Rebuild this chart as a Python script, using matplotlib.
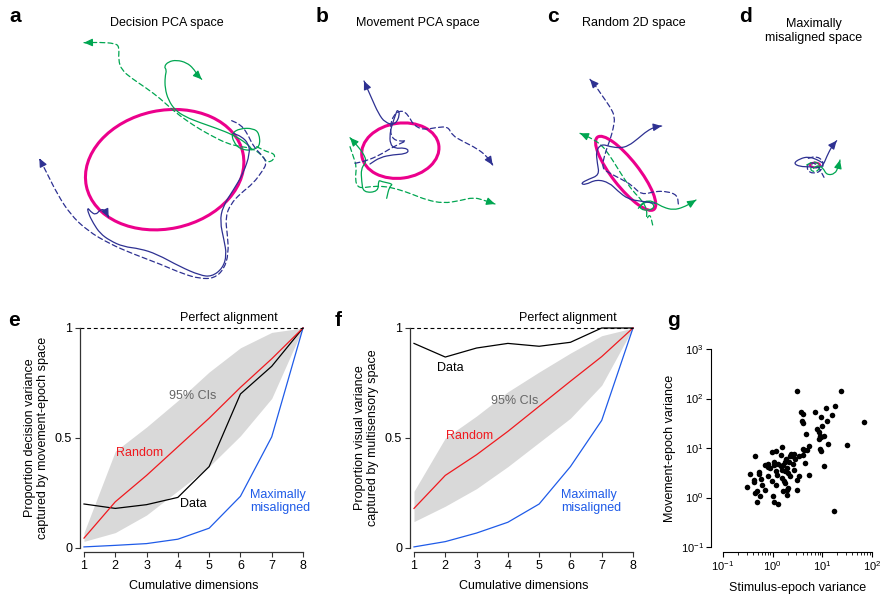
import numpy as np
import matplotlib
matplotlib.use('Agg')
import matplotlib.pyplot as plt
from matplotlib.path import Path
from matplotlib.patches import PathPatch, Ellipse
from matplotlib.ticker import LogLocator, NullFormatter

plt.rcParams['font.family'] = ['Liberation Sans', 'DejaVu Sans']
plt.rcParams['mathtext.fontset'] = 'custom'
plt.rcParams['mathtext.rm'] = 'Liberation Sans'
plt.rcParams['mathtext.it'] = 'Liberation Sans:italic'

# ---------------- data ----------------
dims = [1, 2, 3, 4, 5, 6, 7, 8]

e_random = [0.045, 0.21, 0.33, 0.46, 0.59, 0.73, 0.86, 1.0]
e_ci_hi = [0.07, 0.44, 0.55, 0.67, 0.80, 0.91, 0.98, 1.0]
e_ci_lo = [0.03, 0.07, 0.15, 0.26, 0.37, 0.51, 0.68, 1.0]
e_data = [0.20, 0.18, 0.197, 0.23, 0.37, 0.70, 0.826, 1.0]
e_misaligned = [0.005, 0.012, 0.02, 0.04, 0.09, 0.235, 0.505, 1.0]

f_random = [0.18, 0.33, 0.424, 0.53, 0.644, 0.758, 0.87, 1.0]
f_ci_hi = [0.258, 0.50, 0.60, 0.71, 0.80, 0.886, 0.965, 1.0]
f_ci_lo = [0.12, 0.19, 0.27, 0.37, 0.48, 0.59, 0.74, 1.0]
f_data = [0.93, 0.868, 0.909, 0.93, 0.917, 0.935, 1.0, 1.0]
f_misaligned = [0.005, 0.029, 0.068, 0.117, 0.20, 0.37, 0.58, 1.0]

g_stim = [3.03, 23.8, 18.0, 11.7, 7.22, 15.4, 3.65, 4.07, 9.25, 3.82,
          4.13, 12.2, 7.69, 10.0, 8.70, 8.97, 4.68, 9.25, 70.5, 8.44,
          10.8, 12.8, 31.0, 8.97, 9.25, 5.46, 1.53, 4.00, 4.26, 4.83,
          4.00, 2.68, 2.29, 1.16, 0.95, 0.44, 2.22, 2.40, 1.85, 1.46,
          2.85, 3.38, 4.47, 1.07, 1.29, 0.69, 0.81, 1.06, 1.76, 2.15,
          2.59, 1.63, 10.8, 0.53, 0.81, 0.90, 1.46, 1.53, 1.90, 1.99,
          1.19, 2.72, 1.76, 0.35, 0.52, 0.59, 0.81, 0.95, 1.25, 1.51,
          2.22, 1.68, 3.43, 5.46, 3.03, 0.42, 0.42, 0.30, 0.60, 1.16,
          1.76, 1.99, 0.49, 0.44, 0.69, 1.58, 3.03, 1.90, 0.55, 1.02,
          0.49, 1.06, 1.90, 1.31, 17.5]
g_move = [144, 142, 70.8, 63.5, 54.4, 46.7, 52.8, 48.1, 41.9, 35.9,
          32.7, 35.9, 24.4, 27.2, 21.5, 17.6, 19.0, 16.3, 34.2, 15.3,
          17.1, 12.1, 11.6, 9.47, 8.90, 11.1, 10.7, 9.6, 9.18, 9.18,
          7.28, 7.62, 7.62, 8.50, 8.4, 6.74, 6.95, 6.74, 5.96, 7.16,
          5.96, 6.95, 4.95, 5.18, 4.80, 4.44, 4.80, 4.44, 5.10, 5.10,
          4.72, 4.58, 4.37, 3.21, 4.05, 3.92, 4.24, 3.63, 3.92, 3.11,
          3.36, 3.63, 3.36, 2.92, 3.01, 2.35, 2.75, 2.11, 2.88, 2.47,
          2.66, 2.11, 2.75, 2.83, 2.28, 2.28, 2.01, 1.62, 1.81, 1.75,
          1.95, 1.55, 1.33, 1.23, 1.39, 1.33, 1.39, 1.39, 1.05, 1.05,
          0.83, 0.83, 1.14, 0.74, 0.54]

# trajectories (projection units, y downward)
a_green_dashed = [(770,440),(800,455),(825,462),(822,480),(800,488),(790,470),(760,445),(720,440),(680,430),(640,410),(600,388),(560,362),(520,332),(480,295),(440,265),(395,235),(365,210),(355,180),(358,140),(345,130),(300,127),(252,128)]
a_green_solid = [(755,450),(780,440),(778,400),(760,385),(720,385),(695,400),(700,425),(720,448),(760,452),(740,430),(700,405),(650,385),(600,368),(555,350),(525,330),(505,300),(495,265),(495,230),(500,210),(492,200),(505,185),(530,180),(560,188),(580,205),(592,225),(605,238)]
a_blue_solid = [(700,400),(725,410),(745,430),(750,460),(730,520),(700,570),(668,620),(660,665),(672,720),(680,765),(668,805),(635,830),(600,826),(540,800),(470,762),(420,746),(370,740),(330,722),(300,700),(280,670),(265,640),(262,622),(272,635),(287,645),(300,630),(312,628),(320,640),(326,652)]
a_blue_dashed = [(695,362),(722,374),(742,400),(760,440),(790,470),(800,490),(788,512),(760,550),(722,580),(692,612),(676,652),(682,702),(686,760),(672,808),(642,835),(600,836),(550,822),(480,792),(400,762),(330,732),(262,692),(210,642),(172,582),(142,522),(118,475)]

b_blue_solid = [(180,492),(210,472),(250,464),(285,462),(298,452),(283,443),(255,446),(240,432),(240,400),(245,378),(258,340),(263,328),(270,345),(255,375),(225,368),(205,340),(185,295),(162,243)]
b_blue_dashed = [(135,490),(170,482),(210,465),(250,440),(295,420),(270,425),(245,415),(240,380),(250,345),(275,330),(295,345),(310,375),(340,390),(380,382),(415,380),(425,405),(460,425),(500,445),(530,468),(548,495)]
b_green_solid = [(230,595),(238,560),(250,552),(215,545),(205,540),(205,575),(160,578),(155,545),(153,505),(170,485),(160,460),(140,435),(120,413)]
b_green_dashed = [(120,440),(130,470),(140,500),(135,540),(145,565),(180,560),(220,558),(265,568),(305,582),(350,600),(400,610),(450,602),(490,592),(520,600),(555,612)]

c_blue_dashed = [(355,612),(352,585),(320,574),(285,574),(245,585),(215,555),(185,538),(150,520),(125,505),(135,460),(150,420),(160,385),(165,350),(150,320),(125,285),(105,255),(90,238)]
c_blue_solid = [(285,610),(240,603),(205,598),(172,572),(148,548),(110,538),(75,555),(62,550),(85,538),(118,525),(112,490),(108,452),(125,432),(150,440),(180,444),(205,438),(235,415),(262,392),(285,381),(305,378)]
c_green_dashed = [(278,675),(270,640),(258,662),(262,630),(245,600),(220,575),(195,540),(170,500),(148,465),(125,435),(95,415),(60,400)]
c_green_solid = [(235,625),(250,608),(272,605),(285,620),(268,632),(240,628),(242,612),(265,600),(290,610),(310,622),(340,630),(370,622),(395,608),(408,600)]

d_blue_solid = [(790,490),(770,478),(745,470),(720,476),(700,490),(720,500),(750,500),(775,505),(790,495),(800,470),(815,440),(830,422)]
d_blue_dashed = [(745,475),(770,468),(792,485),(785,512),(760,522),(740,510),(745,488),(770,490),(792,532)]
d_green_solid = [(760,505),(775,495),(790,505),(800,525),(825,522),(835,500),(840,480)]
d_green_dashed = [(740,495),(762,483),(782,496),(772,516),(750,512),(756,494)]

# ellipses: (cx, cy, width, height, angle)
a_ellipse = (494, 509, 480, 355, -12)
b_ellipse = (271, 452, 233, 165, -8)
c_ellipse = (197, 520, 275, 80, 52)
d_ellipse = (765, 495, 30, 14, 0)

# ---------------- style ----------------
W, H = 881, 596
NAVY = '#2E3192'
GREEN = '#00A651'
MAGENTA = '#EC008C'
RED = '#F0191E'
BLUE = '#1F5BE8'
GRAY = '#D9D9D9'

fig = plt.figure(figsize=(W/100, H/100), dpi=100)


def px_axes(x0, y0, w, h):
    return fig.add_axes([x0/W, 1-(y0+h)/H, w/W, h/H])


def ftext(x, y, s, **kw):
    fig.text(x/W, 1-y/H, s, **kw)


def draw_traj(ax, pts, color, dashed, arrow=True):
    p = np.asarray(pts, float)
    verts = [p[0], (p[0]+p[1])/2]
    codes = [Path.MOVETO, Path.LINETO]
    for i in range(1, len(p)-1):
        verts += [p[i], (p[i]+p[i+1])/2]
        codes += [Path.CURVE3, Path.CURVE3]
    verts.append(p[-1])
    codes.append(Path.LINETO)
    ls = (0, (4, 2.5)) if dashed else '-'
    ax.add_patch(PathPatch(Path(verts, codes), fill=False, edgecolor=color,
                           lw=0.9, linestyle=ls, capstyle='round', joinstyle='round'))
    if arrow:
        d = p[-1]-p[-2]
        d = d/np.hypot(*d)
        ax.annotate('', xy=p[-1], xytext=p[-1]-6*d,
                    arrowprops=dict(arrowstyle='-|>,head_length=0.55,head_width=0.25',
                                    color=color, lw=0.9, mutation_scale=9,
                                    shrinkA=0, shrinkB=0))


def traj_panel(rect, lims, ell, trajs):
    ax = px_axes(*rect)
    ax.set_xlim(0, lims[0])
    ax.set_ylim(lims[1], 0)
    ax.axis('off')
    ax.patch.set_alpha(0)
    cx, cy, w, h, ang = ell
    ax.add_patch(Ellipse((cx, cy), w, h, angle=ang, fill=False,
                         edgecolor=MAGENTA, lw=2.2))
    for pts, col, dashed, arr in trajs:
        draw_traj(ax, pts, col, dashed, arr)
    return ax


traj_panel((0, 0, 320, 300), (960, 900), a_ellipse, [
    (a_green_dashed, GREEN, True, True), (a_green_solid, GREEN, False, True),
    (a_blue_dashed, NAVY, True, True), (a_blue_solid, NAVY, False, True)])
traj_panel((310, 0, 260, 300), (780, 900), b_ellipse, [
    (b_green_dashed, GREEN, True, True), (b_green_solid, GREEN, False, True),
    (b_blue_dashed, NAVY, True, True), (b_blue_solid, NAVY, False, True)])
axc = traj_panel((560, 0, 321, 300), (963, 900), c_ellipse, [
    (c_green_dashed, GREEN, True, True), (c_green_solid, GREEN, False, True),
    (c_blue_dashed, NAVY, True, True), (c_blue_solid, NAVY, False, True)])
cx, cy, w, h, ang = d_ellipse
axc.add_patch(Ellipse((cx, cy), w, h, angle=ang, fill=False, edgecolor=MAGENTA, lw=1.5))
for pts, col, dashed, arr in [(d_blue_dashed, NAVY, True, False), (d_green_dashed, GREEN, True, False),
                              (d_blue_solid, NAVY, False, True), (d_green_solid, GREEN, False, True)]:
    draw_traj(axc, pts, col, dashed, arr)

# titles and letters
ftext(167, 23, 'Decision PCA space', ha='center', va='center', fontsize=9)
ftext(418, 23, 'Movement PCA space', ha='center', va='center', fontsize=9)
ftext(634, 23, 'Random 2D space', ha='center', va='center', fontsize=9)
ftext(814, 31, 'Maximally\nmisaligned space', ha='center', va='center', fontsize=9, linespacing=1.15)
for (x, y, s) in [(15, 16, 'a'), (322, 16, 'b'), (553, 16, 'c'), (745, 16, 'd'),
                  (14, 320, 'e'), (338, 320, 'f'), (673, 321, 'g')]:
    ftext(x, y, s, ha='center', va='center', fontsize=15, fontweight='bold')


# ---------------- line panels ----------------
def line_panel(left_px, random, lo, hi, data, mis, ylabel, pos):
    ax = px_axes(left_px, 328, 219, 220)
    ax.fill_between(dims, lo, hi, color=GRAY, lw=0, clip_on=False)
    ax.plot(dims, mis, color=BLUE, lw=0.9, clip_on=False)
    ax.plot(dims, data, color='black', lw=0.9, clip_on=False)
    ax.plot(dims, random, color=RED, lw=0.9, clip_on=False)
    ax.plot([0.87, 8], [1, 1], color='black', lw=0.8, ls=(0, (3.5, 2.5)), clip_on=False)
    ax.set_xlim(1, 8)
    ax.set_ylim(0, 1)
    for s in ['top', 'right']:
        ax.spines[s].set_visible(False)
    for s in ['left', 'bottom']:
        ax.spines[s].set_position(('outward', 3))
        ax.spines[s].set_linewidth(0.9)
        ax.spines[s].set_color('#333333')
    ax.set_xticks(dims)
    ax.set_yticks([0, 0.5, 1])
    ax.set_yticklabels(['0', '0.5', '1'])
    ax.tick_params(direction='out', length=3.5, width=0.8, labelsize=9, pad=2, color='#333333')
    ax.set_xlabel('Cumulative dimensions', fontsize=9, labelpad=6)
    ax.set_ylabel(ylabel, fontsize=9, labelpad=4, linespacing=1.15)
    ax.text(pos['perfect'][0], pos['perfect'][1], 'Perfect alignment', ha='center', va='center', fontsize=9)
    ax.text(pos['ci'][0], pos['ci'][1], '95% CIs', ha='center', va='center', fontsize=9, color='#666666')
    ax.text(pos['random'][0], pos['random'][1], 'Random', ha='center', va='center', fontsize=9, color=RED)
    ax.text(pos['data'][0], pos['data'][1], 'Data', ha='center', va='center', fontsize=9)
    ax.text(pos['mis'][0], pos['mis'][1], 'Maximally\nmisaligned', ha='left', va='center',
            fontsize=9, color=BLUE, linespacing=1.1)
    return ax


line_panel(84, e_random, e_ci_lo, e_ci_hi, e_data, e_misaligned,
           'Proportion decision variance\ncaptured by movement-epoch space',
           dict(perfect=(5.63, 1.045), ci=(4.48, 0.69), random=(2.79, 0.43),
                data=(4.5, 0.20), mis=(6.31, 0.21)))
line_panel(414, f_random, f_ci_lo, f_ci_hi, f_data, f_misaligned,
           'Proportion visual variance\ncaptured by multisensory space',
           dict(perfect=(5.92, 1.045), ci=(4.23, 0.67), random=(2.79, 0.51),
                data=(2.15, 0.82), mis=(5.70, 0.21)))

# ---------------- scatter panel ----------------
axg = px_axes(723, 349, 149, 198)
axg.scatter(g_stim, g_move, s=16, color='black', lw=0, clip_on=False)
axg.set_xscale('log')
axg.set_yscale('log')
axg.set_xlim(0.1, 100)
axg.set_ylim(0.1, 1000)
for s in ['top', 'right']:
    axg.spines[s].set_visible(False)
axg.spines['left'].set_position(('outward', 8.5))
axg.spines['bottom'].set_position(('outward', 3.5))
for s in ['left', 'bottom']:
    axg.spines[s].set_linewidth(0.8)
axg.xaxis.set_major_locator(LogLocator(base=10, numticks=10))
axg.xaxis.set_minor_locator(LogLocator(base=10, subs=np.arange(2, 10), numticks=10))
axg.xaxis.set_minor_formatter(NullFormatter())
axg.yaxis.set_major_locator(LogLocator(base=10, numticks=10))
axg.yaxis.set_minor_locator(plt.NullLocator())
axg.tick_params(which='major', direction='out', length=3.5, width=0.8, labelsize=8, pad=2)
axg.tick_params(which='minor', direction='out', length=2, width=0.6)
axg.set_xlabel('Stimulus-epoch variance', fontsize=9, labelpad=6)
axg.set_ylabel('Movement-epoch variance', fontsize=9, labelpad=3)

fig.savefig('out.png', dpi=100)
